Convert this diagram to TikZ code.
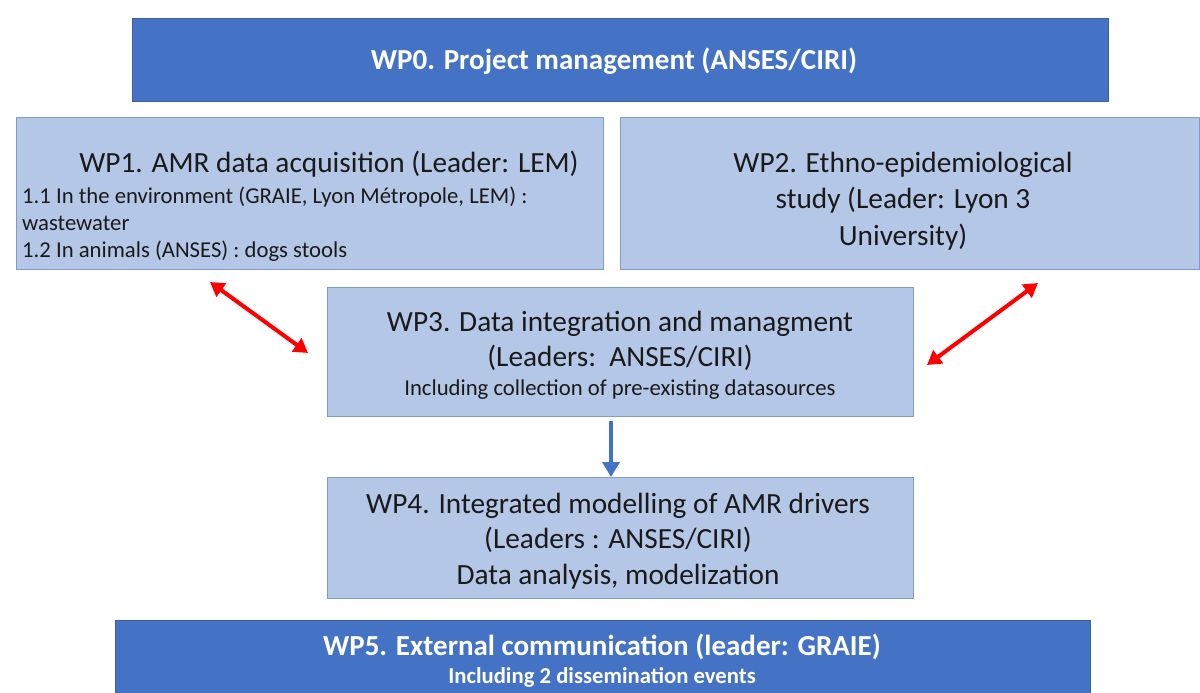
\documentclass[tikz,border=0pt]{standalone}
\usepackage{fontspec}
\setmainfont{Carlito}
\usetikzlibrary{arrows.meta}
\definecolor{dkblue}{HTML}{4472C4}
\definecolor{dkedge}{HTML}{3A5F9F}
\definecolor{ltblue}{HTML}{B4C7E7}
\definecolor{ltedge}{HTML}{7F9BCD}
\definecolor{txt}{HTML}{1A1A1A}
\begin{document}
\begin{tikzpicture}[x=1pt,y=-1pt,
  darkbox/.style={draw=dkedge, fill=dkblue, line width=1pt, anchor=north west, inner sep=0pt},
  lightbox/.style={draw=ltedge, fill=ltblue, line width=1.2pt, anchor=north west, inner sep=0pt},
  bigtxt/.style={text=txt, anchor=base, align=center, inner sep=0pt, font=\fontsize{29.3}{36}\selectfont},
  smalltxt/.style={text=txt, inner sep=0pt, font=\fontsize{22.7}{27}\selectfont},
  whitetxt/.style={text=white, anchor=base, inner sep=0pt},
  redarrow/.style={draw=red, line width=4pt, {Triangle[length=14pt,width=16pt]}-{Triangle[length=14pt,width=16pt]}},
  bluearrow/.style={draw=dkblue, line width=4.5pt, -{Triangle[length=15pt,width=17pt]}}
]
\useasboundingbox (0,0) rectangle (1200,693);
% WP0
\node[darkbox, minimum width=976pt, minimum height=83pt] (wp0) at (132,18) {};
\node[whitetxt, font=\bfseries\fontsize{29}{34}\selectfont] (wp0t) at (614,70) {WP0. Project management (ANSES/CIRI)};
% WP1
\node[lightbox, minimum width=587pt, minimum height=152pt] (wp1) at (16,117) {};
\node[bigtxt] (wp1t) at (329,172) {WP1. AMR data acquisition (Leader: LEM)};
\node[smalltxt, anchor=base west, align=left] (wp1s) at (22,257) {1.1 In the environment (GRAIE, Lyon Métropole, LEM) :\\wastewater\\1.2 In animals (ANSES) : dogs stools};
% WP2
\node[lightbox, minimum width=579pt, minimum height=152pt] (wp2) at (620,117) {};
\node[bigtxt, font=\fontsize{29.3}{36.5}\selectfont] (wp2t) at (903,245) {WP2. Ethno-epidemiological\\study (Leader: Lyon 3\\University)};
% WP3
\node[lightbox, minimum width=586pt, minimum height=129pt] (wp3) at (327,287) {};
\node[bigtxt, font=\fontsize{29.3}{34.5}\selectfont] (wp3t) at (620,366) {WP3. Data integration and managment\\(Leaders:\ \ ANSES/CIRI)};
\node[smalltxt, anchor=base] (wp3s) at (620,395) {Including collection of pre-existing datasources};
% WP4
\node[lightbox, minimum width=586pt, minimum height=121pt] (wp4) at (327,477) {};
\node[bigtxt, font=\fontsize{29.3}{35.5}\selectfont] (wp4t) at (618,584) {WP4. Integrated modelling of AMR drivers\\(Leaders : ANSES/CIRI)\\Data analysis, modelization};
% WP5
\node[darkbox, minimum width=975pt, minimum height=80pt] (wp5) at (115,620) {};
\node[whitetxt, font=\bfseries\fontsize{29}{34}\selectfont] (wp5t) at (602,655) {WP5. External communication (leader: GRAIE)};
\node[whitetxt, font=\bfseries\fontsize{22.7}{26}\selectfont] (wp5s) at (602,683) {Including 2 dissemination events};
% arrows
\coordinate (a1) at (210,282);
\coordinate (a2) at (308,353);
\coordinate (b1) at (1038,283);
\coordinate (b2) at (927,365);
\draw[redarrow] (a1) -- (a2);
\draw[redarrow] (b1) -- (b2);
\draw[bluearrow, shorten <=4pt] (wp3.south -| 611,0) -- (wp4.north -| 611,0);
\end{tikzpicture}
\end{document}
